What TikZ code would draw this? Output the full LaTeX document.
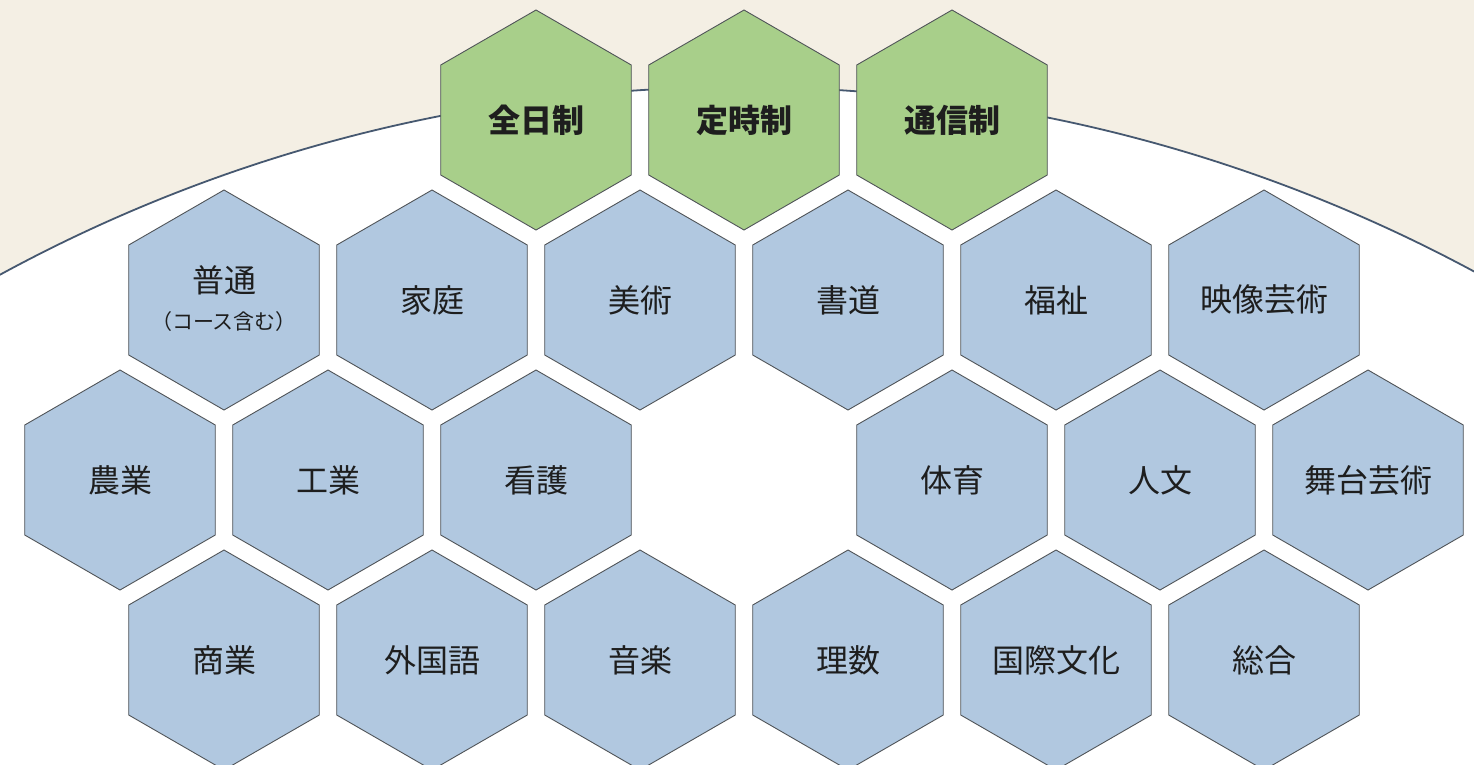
\documentclass[tikz,border=0pt]{standalone}
\usepackage{fontspec}
\newfontfamily\jp{Noto Sans CJK JP}
\usetikzlibrary{shapes.geometric}
\definecolor{bgbeige}{RGB}{244,239,228}
\definecolor{arcline}{RGB}{70,88,112}
\definecolor{hexgreen}{RGB}{168,207,138}
\definecolor{hexblue}{RGB}{177,200,224}
\definecolor{hexedge}{RGB}{80,84,88}
\definecolor{txt}{RGB}{30,30,30}
\tikzset{
  hexbase/.style={regular polygon, regular polygon sides=6, shape border rotate=30,
    minimum size=220pt, inner sep=0pt, draw=hexedge, line width=0.9pt,
    text=txt, align=center},
  course/.style={hexbase, fill=hexblue, font=\jp\fontsize{32}{38}\selectfont},
  system/.style={hexbase, fill=hexgreen, font=\jp\bfseries\fontsize{32}{38}\selectfont},
  lbl/.style={text=txt, align=center, inner sep=0pt},
}
\begin{document}
\begin{tikzpicture}[x=1pt,y=-1pt]
\useasboundingbox (0,0) rectangle (1474,764);
\clip (0,0) rectangle (1474,764);
\fill[bgbeige] (0,0) rectangle (1474,764);
\draw[arcline, line width=1.8pt, fill=white] (740,1637) circle[radius=1550pt];
% green row
\node[system] (zen) at (536,120) {全日制};
\node[system] (tei) at (744,120) {定時制};
\node[system] (tsu) at (952,120) {通信制};
% row 1
\node[course] (futsu) at (224,300) {};
\node[lbl, font=\jp\fontsize{32}{38}\selectfont] (futsuA) at (224,280) {普通};
\node[lbl, font=\jp\fontsize{21}{26}\selectfont] (futsuB) at (224,322) {（コース含む）};
\node[course] (katei) at (432,300) {家庭};
\node[course] (bijutsu) at (640,300) {美術};
\node[course] (shodo) at (848,300) {書道};
\node[course] (fukushi) at (1056,300) {福祉};
\node[course] (eizo) at (1264,300) {映像芸術};
% row 2
\node[course] (nogyo) at (120,480) {農業};
\node[course] (kogyo) at (328,480) {工業};
\node[course] (kango) at (536,480) {看護};
\node[course] (taiiku) at (952,480) {体育};
\node[course] (jinbun) at (1160,480) {人文};
\node[course] (butai) at (1368,480) {舞台芸術};
% row 3
\node[course] (shogyo) at (224,660) {商業};
\node[course] (gaikoku) at (432,660) {外国語};
\node[course] (ongaku) at (640,660) {音楽};
\node[course] (risu) at (848,660) {理数};
\node[course] (kokusai) at (1056,660) {国際文化};
\node[course] (sogo) at (1264,660) {総合};
\end{tikzpicture}
\end{document}
